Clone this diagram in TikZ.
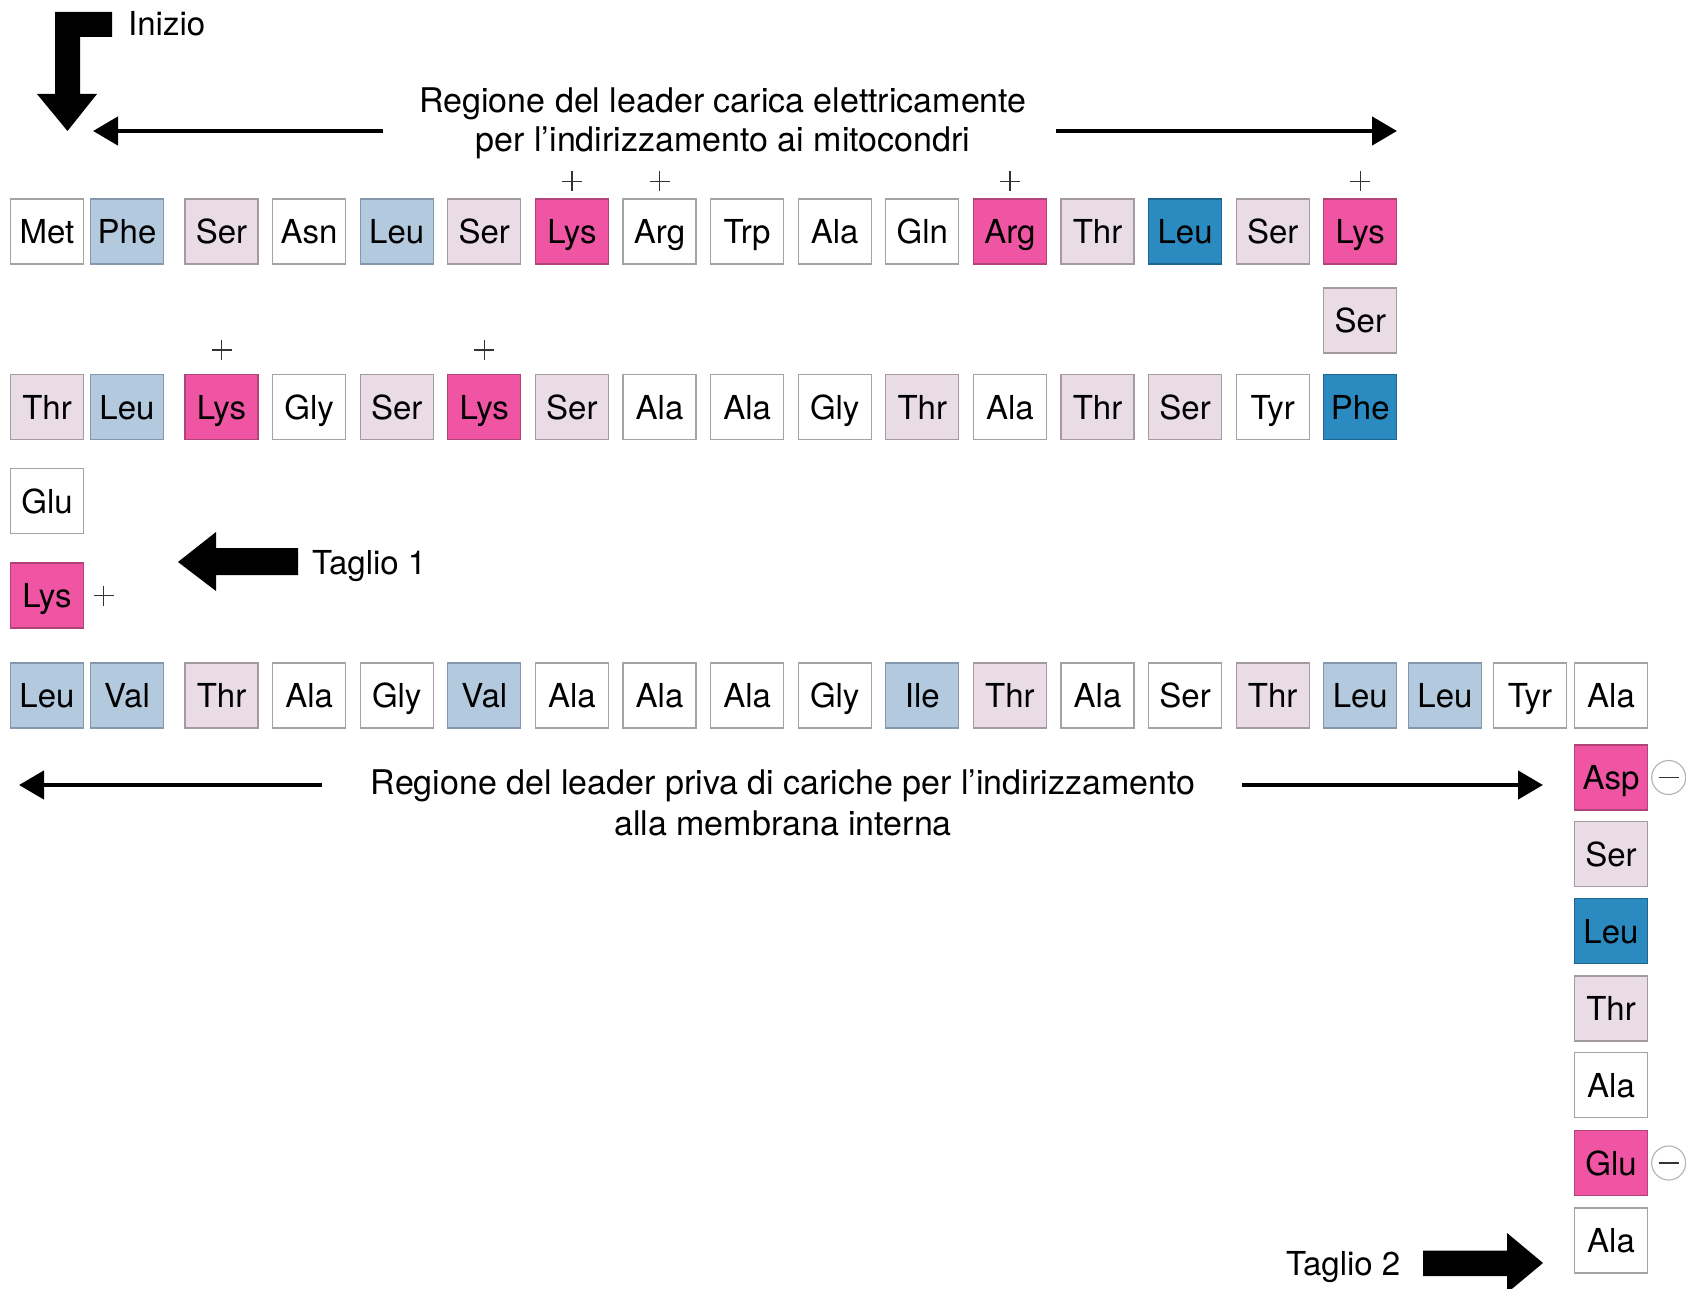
\documentclass[tikz,border=0pt]{standalone}
\usepackage{fontspec}
\setmainfont{TeX Gyre Heros}
\usetikzlibrary{arrows.meta,calc}
\definecolor{lbluefill}{HTML}{B3C9DE}
\definecolor{lblueline}{HTML}{8597AC}
\definecolor{lpinkfill}{HTML}{EADCE5}
\definecolor{lpinkline}{HTML}{A39BA1}
\definecolor{magfill}{HTML}{EF55A3}
\definecolor{magline}{HTML}{B04479}
\definecolor{dbluefill}{HTML}{2B8BC1}
\definecolor{dblueline}{HTML}{1E6690}
\definecolor{whline}{HTML}{A3A3A3}
\newcommand\aafont{\fontsize{33pt}{39pt}\selectfont}
\newcommand\bbfont{\fontsize{34pt}{39pt}\selectfont}
\begin{document}
\begin{tikzpicture}[x=1pt,y=-1pt,
  box/.style={rectangle, minimum width=73pt, minimum height=65pt, inner sep=0pt,
    text height=24pt, text depth=0pt, line width=1.3pt, font=\aafont, text=black},
  wh/.style={box, fill=white, draw=whline},
  lb/.style={box, fill=lbluefill, draw=lblueline},
  lp/.style={box, fill=lpinkfill, draw=lpinkline},
  mg/.style={box, fill=magfill, draw=magline},
  db/.style={box, fill=dbluefill, draw=dblueline},
  lbl/.style={font=\aafont, inner sep=0pt, text=black},
  biglbl/.style={font=\bbfont, inner sep=0pt, text=black},
  longarr/.style={line width=4.5pt, -{Triangle[length=25pt,width=28pt]}},
  pluschg/.pic={\draw[line width=1.6pt, draw=black!80] (-10,0) -- (10,0) (0,-10) -- (0,10);},
  minuschg/.pic={\draw[line width=1.1pt, draw=gray!60, fill=white] (0,0) circle[radius=17pt];
                 \draw[line width=1.5pt, draw=black!80] (-10,0) -- (10,0);}
]
\useasboundingbox (0,0) rectangle (1686,1289);

% Row 1
\foreach \lab/\sty [count=\i from 0] in {Met/wh,Phe/lb,Ser/lp,Asn/wh,Leu/lb,Ser/lp,Lys/mg,Arg/wh,Trp/wh,Ala/wh,Gln/wh,Arg/mg,Thr/lp,Leu/db,Ser/lp,Lys/mg}{
  \pgfmathsetmacro\xx{\i==0 ? 47 : (\i==1 ? 127 : 221.5+87.6*(\i-2))}
  \node[\sty] (a\i) at (\xx,231.5) {\lab};
}
\node[lp] (aser) at (a15 |- 0,320.5) {Ser};

% Row 2
\foreach \lab/\sty [count=\i from 0] in {Thr/lp,Leu/lb,Lys/mg,Gly/wh,Ser/lp,Lys/mg,Ser/lp,Ala/wh,Ala/wh,Gly/wh,Thr/lp,Ala/wh,Thr/lp,Ser/lp,Tyr/wh,Phe/db}{
  \pgfmathsetmacro\xx{\i==0 ? 47 : (\i==1 ? 127 : 221.5+87.6*(\i-2))}
  \node[\sty] (b\i) at (\xx,407) {\lab};
}
\node[wh] (glu) at (47,501) {Glu};
\node[mg] (lysc) at (47,595.5) {Lys};

% Row 3
\foreach \lab/\sty [count=\i from 0] in {Leu/lb,Val/lb,Thr/lp,Ala/wh,Gly/wh,Val/lb,Ala/wh,Ala/wh,Ala/wh,Gly/wh,Ile/lb,Thr/lp,Ala/wh,Ser/wh,Thr/lp,Leu/lb}{
  \pgfmathsetmacro\xx{\i==0 ? 47 : (\i==1 ? 127 : 221.5+87.6*(\i-2))}
  \node[\sty] (c\i) at (\xx,695.5) {\lab};
}
\node[lb] (c16) at (1445,695.5) {Leu};
\node[wh] (c17) at (1530,695.5) {Tyr};
\node[wh] (c18) at (1611,695.5) {Ala};

% Right column
\node[mg] (d1) at (1611,777.5) {Asp};
\node[lp] (d2) at (1611,854) {Ser};
\node[db] (d3) at (1611,931) {Leu};
\node[lp] (d4) at (1611,1008.5) {Thr};
\node[wh] (d5) at (1611,1085) {Ala};
\node[mg] (d6) at (1611,1163) {Glu};
\node[wh] (d7) at (1611,1240.5) {Ala};

% charges
\foreach \n in {a6,a7,a11,a15}{
  \pic at ($(\n.north)+(0,-17)$) {pluschg};
}
\foreach \n in {b2,b5}{
  \pic at ($(\n.north)+(0,-24)$) {pluschg};
}
\pic at ($(lysc.east)+(19.5,0)$) {pluschg};
\pic at ($(d1.east)+(20.5,0)$) {minuschg};
\pic at ($(d6.east)+(20.5,0)$) {minuschg};

% Inizio arrow
\fill[black] (112,12) -- (55,12) -- (55,94) -- (37,94) -- (67.5,131) -- (97,94) -- (80,94) -- (80,37) -- (112,37) -- cycle;
\node[lbl, anchor=base west] (inizio) at (128,36) {Inizio};

% top label and arrows
\node[biglbl, anchor=base] (tl1) at (723,113) {Regione del leader carica elettricamente};
\node[biglbl, anchor=base] (tl2) at (723,152) {per l’indirizzamento ai mitocondri};
\coordinate (tla) at (383,131);
\coordinate (tlb) at (93,131);
\coordinate (tra) at (1056,131);
\coordinate (trb) at (1397,131);
\draw[longarr] (tla) -- (tlb);
\draw[longarr] (tra) -- (trb);

% Taglio 1
\fill[black] (178,562) -- (216,532) -- (216,548) -- (298,548) -- (298,575) -- (216,575) -- (216,591) -- cycle;
\node[lbl, anchor=base west] (t1) at (312,574) {Taglio 1};

% bottom label and arrows
\node[biglbl, anchor=base] (bl1) at (783,794) {Regione del leader priva di cariche per l’indirizzamento};
\node[biglbl, anchor=base] (bl2) at (783,835) {alla membrana interna};
\coordinate (bla) at (322,785);
\coordinate (blb) at (19,785);
\coordinate (bra) at (1242,785);
\coordinate (brb) at (1543,785);
\draw[longarr] (bla) -- (blb);
\draw[longarr] (bra) -- (brb);

% Taglio 2
\fill[black] (1543,1263) -- (1507,1233) -- (1507,1250.5) -- (1423,1250.5) -- (1423,1276) -- (1507,1276) -- (1507,1293) -- cycle;
\node[lbl, anchor=base west] (t2) at (1286,1275) {Taglio 2};
\end{tikzpicture}
\end{document}
